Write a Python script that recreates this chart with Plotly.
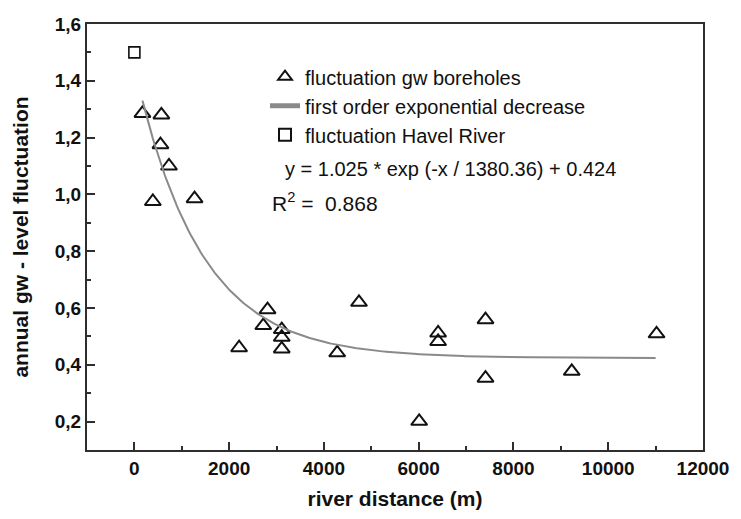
import numpy as np
import plotly.graph_objects as go

# ---- data ----
gw_x = [170, 570, 550, 730, 390, 1270, 2210, 2720, 2810, 3110, 3110, 3110,
        4280, 4740, 6010, 6410, 6410, 7410, 7410, 9230, 11020]
gw_y = [1.285, 1.28, 1.175, 1.10, 0.975, 0.985, 0.46, 0.538, 0.594, 0.524, 0.497, 0.456,
        0.442, 0.62, 0.201, 0.512, 0.482, 0.559, 0.353, 0.377, 0.509]
river_x = [0]
river_y = [1.5]

# fitted model shown in the chart: y = A * exp(-x / T) + Y0
FIT_A = 1.025
FIT_T = 1380.36
FIT_Y0 = 0.424
FIT_X_START = 170
FIT_X_END = 11000

x_tickvals = [0, 2000, 4000, 6000, 8000, 10000, 12000]
x_ticktext = ["0", "2000", "4000", "6000", "8000", "10000", "12000"]
y_tickvals = [0.2, 0.4, 0.6, 0.8, 1.0, 1.2, 1.4, 1.6]
y_ticktext = ["0,2", "0,4", "0,6", "0,8", "1,0", "1,2", "1,4", "1,6"]

fit_x = np.linspace(FIT_X_START, FIT_X_END, 300)
fit_y = FIT_A * np.exp(-fit_x / FIT_T) + FIT_Y0

FONT = "Arial, Liberation Sans, sans-serif"
DARK = "#111111"
AXC = "#2e2e2e"

fig = go.Figure()
fig.add_trace(go.Scatter(
    x=gw_x, y=gw_y, mode="markers", name="fluctuation gw boreholes",
    marker=dict(symbol="triangle-up-open", size=14, color=DARK, line=dict(width=2, color=DARK)),
))
fig.add_trace(go.Scatter(
    x=fit_x, y=fit_y, mode="lines", name="first order exponential decrease",
    line=dict(color="#8a8a8a", width=2),
))
fig.add_trace(go.Scatter(
    x=river_x, y=river_y, mode="markers", name="fluctuation Havel River",
    marker=dict(symbol="square-open", size=11, color=DARK, line=dict(width=1.6, color=DARK)),
))

axis_common = dict(
    showgrid=False, zeroline=False, showline=True, linecolor=AXC, linewidth=2,
    mirror=True, ticks="inside", ticklen=8, tickwidth=2, tickcolor=AXC,
    tickfont=dict(family=FONT, size=19, color=DARK, weight="bold"),
)

fig.update_layout(
    width=741, height=519,
    margin=dict(l=87, r=31, t=24, b=67),
    paper_bgcolor="white", plot_bgcolor="white",
    font=dict(family=FONT, color=DARK),
    xaxis=dict(
        range=[-1000, 12000], tickmode="array", tickvals=x_tickvals, ticktext=x_ticktext,
        minor=dict(ticks="inside", ticklen=4, tickwidth=2, tickcolor=AXC, dtick=1000, tick0=0),
        title=dict(text="<b>river distance (m)</b>", font=dict(family=FONT, size=21, color=DARK), standoff=14),
        **axis_common,
    ),
    yaxis=dict(
        range=[0.1, 1.6], tickmode="array", tickvals=y_tickvals, ticktext=y_ticktext,
        minor=dict(ticks="inside", ticklen=4, tickwidth=2, tickcolor=AXC, dtick=0.1, tick0=0),
        title=dict(text="<b>annual gw - level fluctuation</b>", font=dict(family=FONT, size=21, color=DARK),
                   standoff=20),
        **axis_common,
    ),
    showlegend=True,
    legend=dict(
        x=0.289, y=0.922, xanchor="left", yanchor="top",
        bgcolor="rgba(0,0,0,0)", font=dict(family=FONT, size=20, color=DARK),
        itemsizing="constant", tracegroupgap=0,
    ),
    annotations=[
        dict(text="y = 1.025 * exp (-x / 1380.36) + 0.424", xref="paper", yref="paper",
             x=0.3178, y=0.66, xanchor="left", yanchor="middle", showarrow=False,
             font=dict(family=FONT, size=20, color=DARK)),
        dict(text="R<sup>2</sup> =  0.868", xref="paper", yref="paper",
             x=0.2965, y=0.582, xanchor="left", yanchor="middle", showarrow=False,
             font=dict(family=FONT, size=21, color=DARK)),
    ],
)

fig.write_html("out.html")
